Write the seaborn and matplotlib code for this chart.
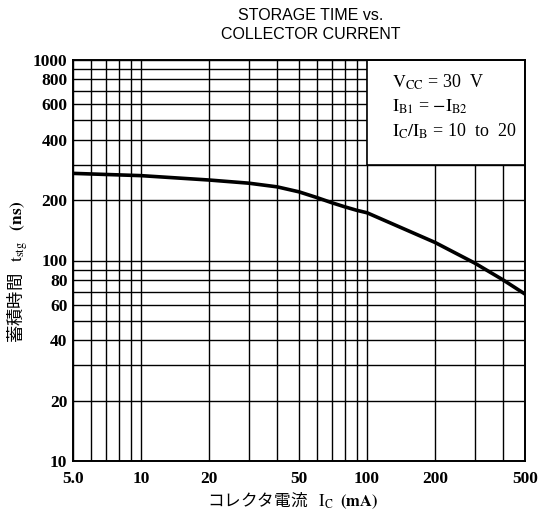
import matplotlib
matplotlib.use('Agg')
import matplotlib.pyplot as plt
import matplotlib.ticker as mticker
from matplotlib.patches import Rectangle
import seaborn as sns

# データ
ic_ma = [5, 10, 20, 30, 40, 50, 60, 70, 80, 90, 100, 200, 300, 400, 500]
tstg_ns = [272, 265, 252, 243, 233, 220, 206, 194, 185, 178, 173, 123, 97, 80, 68]

x_major = [5, 10, 20, 50, 100, 200, 500]
x_labels = ['5.0', '10', '20', '50', '100', '200', '500']
x_minor = [6, 7, 8, 9, 30, 40, 60, 70, 80, 90, 300, 400]
y_major = [10, 20, 40, 60, 80, 100, 200, 400, 600, 800, 1000]
y_labels = ['10', '20', '40', '60', '80', '100', '200', '400', '600', '800', '1000']
y_minor = [30, 50, 70, 90, 300, 500, 700, 900]

notes = [r'$\mathrm{V_{CC}}$ = 30  V',
         r'$\mathrm{I_{B1}}$ = $-$$\mathrm{I_{B2}}$',
         r'$\mathrm{I_C/I_B}$ = 10  to  20']

sns.set_style('white')
plt.rcParams['font.family'] = ['Liberation Serif', 'DejaVu Serif']
plt.rcParams['mathtext.fontset'] = 'stix'
plt.rcParams['text.color'] = 'black'

fig = plt.figure(figsize=(5.38, 5.16), dpi=100)
ax = fig.add_axes([73 / 538, 55 / 516, 452 / 538, 401 / 516])

sns.lineplot(x=ic_ma, y=tstg_ns, color='black', linewidth=2.6, ax=ax, zorder=3)

ax.set_xscale('log')
ax.set_yscale('log')
ax.set_xlim(5, 500)
ax.set_ylim(10, 1000)

ax.xaxis.set_major_locator(mticker.FixedLocator(x_major))
ax.xaxis.set_major_formatter(mticker.FixedFormatter(x_labels))
ax.xaxis.set_minor_locator(mticker.FixedLocator(x_minor))
ax.xaxis.set_minor_formatter(mticker.NullFormatter())
ax.yaxis.set_major_locator(mticker.FixedLocator(y_major))
ax.yaxis.set_major_formatter(mticker.FixedFormatter(y_labels))
ax.yaxis.set_minor_locator(mticker.FixedLocator(y_minor))
ax.yaxis.set_minor_formatter(mticker.NullFormatter())

ax.set_axisbelow(True)
ax.grid(True, which='both', color='black', linewidth=1.0)
ax.tick_params(which='both', length=0, labelsize=12.5, labelcolor='black')
ax.tick_params(axis='x', pad=7)
ax.tick_params(axis='y', pad=4)
for lab in ax.get_xticklabels() + ax.get_yticklabels():
    lab.set_fontweight('bold')
for sp in ax.spines.values():
    sp.set_color('black')
    sp.set_linewidth(1.4)

# 条件の枠 (グリッドを隠す)
ax.add_patch(Rectangle((100, 300), 400, 700, facecolor='white', edgecolor='black',
                       linewidth=1.2, zorder=2))
for i, s in enumerate(notes):
    fig.text(392 / 538, 1 - (82 + 24.5 * i) / 516, s, fontsize=13, ha='left', va='center')

fig.text(311 / 538, 1 - 25 / 516, 'STORAGE TIME vs.\nCOLLECTOR CURRENT',
         family=['Liberation Sans', 'DejaVu Sans'], fontsize=11.5, ha='center', va='center',
         linespacing=1.35)

fig.text(18 / 538, 1 - 272 / 516, r'蓄積時間   $\mathrm{t_{stg}}$   $\mathbf{(ns)}$', rotation=90,
         family=['Noto Sans CJK JP', 'Liberation Serif'], fontsize=12.5, ha='center', va='center')
fig.text(293 / 538, 1 - 501 / 516, r'コレクタ電流   $\mathrm{I_C}$  $\mathbf{(mA)}$',
         family=['Noto Sans CJK JP', 'Liberation Serif'], fontsize=12, ha='center', va='center')

fig.savefig('out.png', dpi=100, facecolor='white')
